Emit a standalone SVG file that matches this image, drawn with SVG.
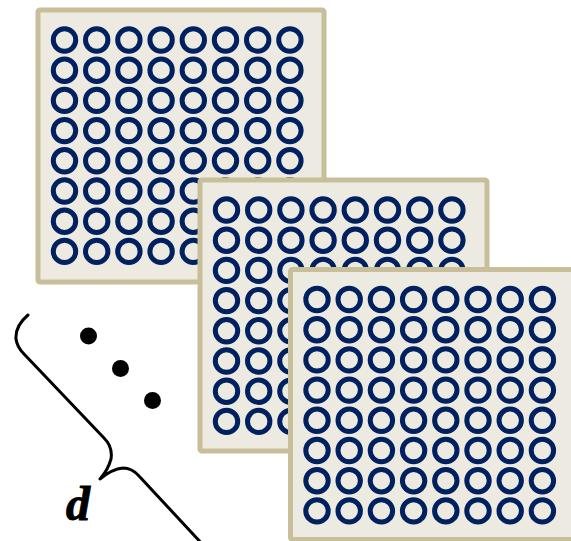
<svg xmlns="http://www.w3.org/2000/svg" xmlns:xlink="http://www.w3.org/1999/xlink" width="571" height="541" viewBox="0 0 571 541">
<style>
.panel{fill:#EDEBE1;stroke:#C8BF9A;stroke-width:5}
.ring{fill:none;stroke:#00205F;stroke-width:5}
.brace{fill:none;stroke:#000;stroke-width:3;stroke-linecap:round;stroke-linejoin:round}
.dot{fill:#000}
.lbl{font-family:"Liberation Serif",serif;font-weight:bold;font-style:italic;font-size:48px;fill:#000;stroke:#000;stroke-width:1}
</style>
<defs>
<g id="row">
<circle class="ring" cx="0" cy="0" r="11.2"/>
<circle class="ring" cx="32.2" cy="0" r="11.2"/>
<circle class="ring" cx="64.4" cy="0" r="11.2"/>
<circle class="ring" cx="96.6" cy="0" r="11.2"/>
<circle class="ring" cx="128.8" cy="0" r="11.2"/>
<circle class="ring" cx="161" cy="0" r="11.2"/>
<circle class="ring" cx="193.2" cy="0" r="11.2"/>
<circle class="ring" cx="225.4" cy="0" r="11.2"/>
</g>
<g id="grid">
<use xlink:href="#row" href="#row" x="0" y="0"/>
<use xlink:href="#row" href="#row" x="0" y="30.2"/>
<use xlink:href="#row" href="#row" x="0" y="60.4"/>
<use xlink:href="#row" href="#row" x="0" y="90.6"/>
<use xlink:href="#row" href="#row" x="0" y="120.8"/>
<use xlink:href="#row" href="#row" x="0" y="151"/>
<use xlink:href="#row" href="#row" x="0" y="181.2"/>
<use xlink:href="#row" href="#row" x="0" y="211.4"/>
</g>
</defs>
<g id="panel1" transform="translate(38,10)">
<rect class="panel" x="0" y="0" width="286" height="272" rx="2"/>
<use xlink:href="#grid" href="#grid" x="26.5" y="30"/>
</g>
<g id="panel2" transform="translate(200,180)">
<rect class="panel" x="0" y="0" width="287" height="271" rx="2"/>
<use xlink:href="#grid" href="#grid" x="26.5" y="30"/>
</g>
<g id="panel3" transform="translate(290.5,269.5)">
<rect class="panel" x="0" y="0" width="287" height="270" rx="2"/>
<use xlink:href="#grid" href="#grid" x="26.5" y="30"/>
</g>
<g id="ellipsis">
<circle class="dot" cx="88.5" cy="336" r="8.5"/>
<circle class="dot" cx="120.5" cy="368.5" r="8.5"/>
<circle class="dot" cx="152.5" cy="400.5" r="8.5"/>
</g>
<g id="brace">
<path class="brace" d="M 28,315 Q 15,326 16,339 Q 17,347 24,354 L 104,438 Q 113,447 111,459 Q 108,470 100,479 Q 112,469 123,468 Q 132,468 139,476 L 205,547"/>
<text class="lbl" x="66" y="520">d</text>
</g>
</svg>
